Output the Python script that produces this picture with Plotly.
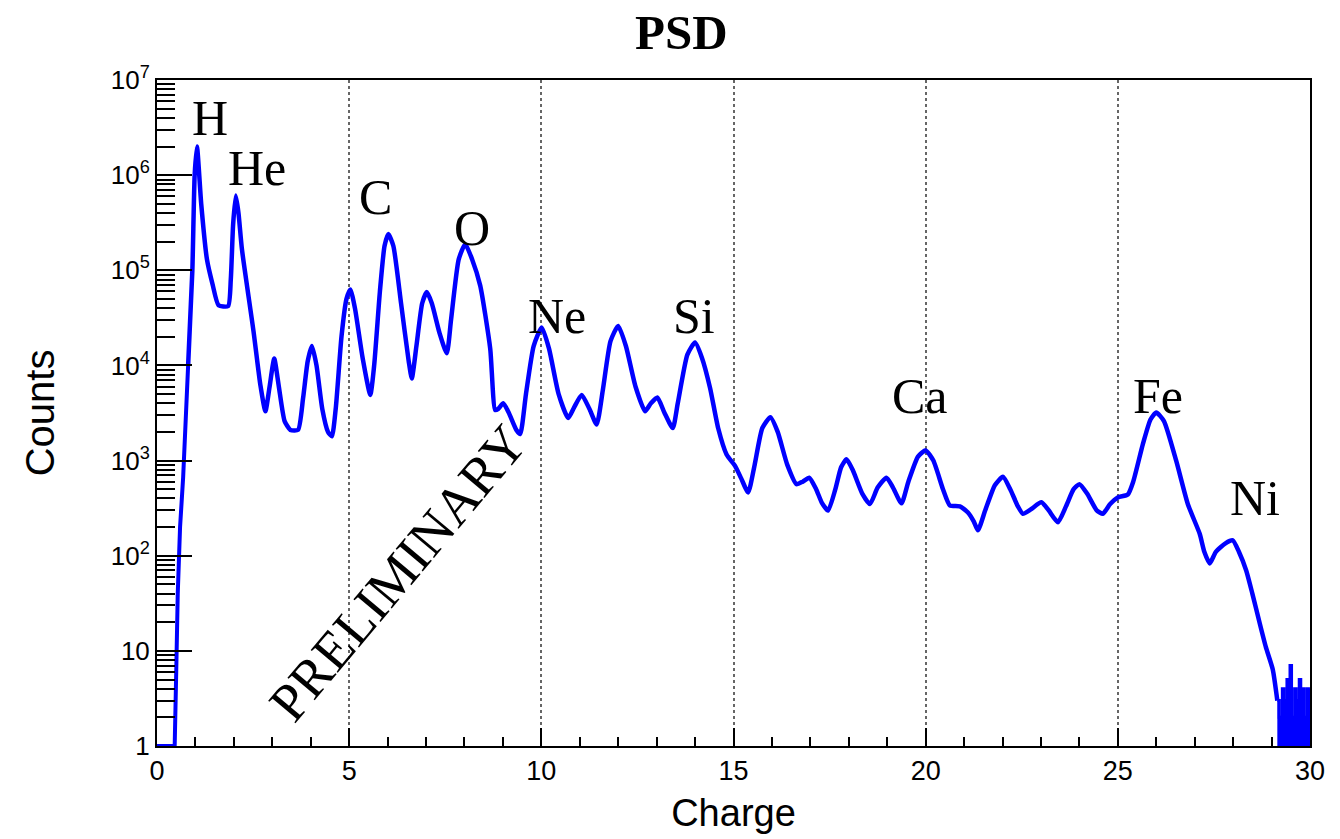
import plotly.graph_objects as go

# ---- data ----
edge_charge = [0.00, 0.46, 0.50, 0.54, 0.60, 0.68, 0.81]
edge_counts = [1, 1, 6, 40, 200, 660, 1.0e4]

charge = [0.81, 0.92, 0.98, 1.04, 1.15, 1.30, 1.45, 1.60, 1.85,
          1.92, 1.98, 2.05, 2.12, 2.21, 2.51, 2.69, 2.82, 2.93, 3.05, 3.17, 3.32, 3.47, 3.67,
          3.80, 3.92, 4.03, 4.15, 4.30, 4.45, 4.55, 4.65, 4.80, 4.93, 5.03, 5.15, 5.35, 5.55,
          5.65, 5.80, 5.92, 6.02, 6.15, 6.35, 6.55, 6.63, 6.75, 6.90, 7.02, 7.15, 7.35, 7.54,
          7.65, 7.85, 8.02, 8.20, 8.41, 8.67, 8.80, 8.88, 9.01, 9.15, 9.35, 9.45, 9.60, 9.80,
          10.01, 10.20, 10.45, 10.70, 10.85, 11.05, 11.25, 11.44, 11.60, 11.80, 12.00, 12.20,
          12.45, 12.70, 12.85, 13.02, 13.20, 13.42, 13.55, 13.80, 14.00, 14.18, 14.39, 14.60,
          14.82, 15.04, 15.20, 15.38, 15.55, 15.75, 15.96, 16.15, 16.40, 16.64, 16.80, 16.97,
          17.15, 17.30, 17.46, 17.65, 17.80, 17.94, 18.10, 18.35, 18.55, 18.75, 18.98, 19.15,
          19.37, 19.55, 19.80, 20.00, 20.20, 20.45, 20.63, 20.89, 21.10, 21.25, 21.36, 21.55,
          21.80, 22.01, 22.20, 22.40, 22.53, 22.75, 23.01, 23.20, 23.44, 23.65, 23.85, 24.00,
          24.20, 24.45, 24.61, 24.80, 25.00, 25.26, 25.40, 25.65, 25.85, 26.00, 26.20, 26.52,
          26.82, 27.13, 27.25, 27.39, 27.55, 27.80, 27.99, 28.15, 28.34, 28.50, 28.69, 28.85,
          29.03, 29.15]
counts = [1.0e4, 1.0e5, 1.0e6, 2.0e6, 5.0e5, 1.3e5, 7.0e4, 4.3e4, 4.2e4,
          8.0e4, 3.0e5, 6.1e5, 4.0e5, 1.66e5, 2.3e4, 6.2e3, 3.3e3, 6.0e3, 1.18e4, 6.0e3, 2.6e3,
          2.1e3, 2.1e3, 4.5e3, 1.1e4, 1.6e4, 1.0e4, 3.5e3, 2.0e3, 1.8e3, 3.5e3, 2.0e4, 5.0e4,
          6.3e4, 4.0e4, 1.2e4, 4.9e3, 1.0e4, 6.0e4, 1.8e5, 2.4e5, 1.8e5, 4.5e4, 1.1e4, 7.3e3,
          1.6e4, 4.5e4, 5.9e4, 4.5e4, 2.2e4, 1.34e4, 3.0e4, 1.3e5, 1.88e5, 1.3e5, 6.9e4, 1.5e4,
          3.4e3, 3.5e3, 4.0e3, 3.2e3, 2.1e3, 1.9e3, 5.0e3, 1.6e4, 2.5e4, 1.5e4, 5.0e3, 2.8e3,
          3.6e3, 4.9e3, 3.5e3, 2.4e3, 5.5e3, 1.8e4, 2.6e4, 1.6e4, 6.0e3, 3.3e3, 4.0e3, 4.6e3,
          3.2e3, 2.2e3, 4.0e3, 1.3e4, 1.74e4, 1.2e4, 5.8e3, 2.2e3, 1.16e3, 880, 650, 462, 900,
          2.2e3, 2.85e3, 2.0e3, 900, 565, 600, 660, 500, 360, 298, 500, 850, 1.03e3, 800, 450,
          349, 520, 660, 520, 355, 600, 1.1e3, 1.28e3, 1.0e3, 500, 337, 330, 285, 230, 185, 300,
          550, 675, 500, 330, 276, 310, 364, 300, 225, 330, 500, 565, 450, 300, 276, 350, 410,
          440, 600, 1.48e3, 2.7e3, 3.2e3, 2.6e3, 990, 350, 170, 110, 83, 110, 135, 145, 110, 70,
          40, 19.6, 11, 6.4, 3]

tail_charge = [29.15, 29.20, 29.24, 29.28, 29.32, 29.36, 29.40, 29.44, 29.48, 29.52, 29.56,
               29.60, 29.64, 29.68, 29.72, 29.76, 29.80, 29.84, 29.88, 29.92, 29.96, 30.00]
tail_counts = [3, 2, 1, 4, 1, 3, 5, 1, 7, 2, 1, 4, 1, 3, 5, 1, 4, 1, 2, 4, 1, 4]

elements = ["H", "He", "C", "O", "Ne", "Si", "Ca", "Fe", "Ni"]
label_x = [1.39, 2.60, 5.68, 8.20, 10.41, 13.97, 19.85, 26.04, 28.56]
label_logy = [6.60, 6.08, 5.775, 5.44, 4.52, 4.52, 3.68, 3.68, 2.61]

y_tickvals = [1, 10, 100, 1e3, 1e4, 1e5, 1e6, 1e7]
y_ticktext = ["1", "10", "10<sup>2</sup>", "10<sup>3</sup>", "10<sup>4</sup>",
              "10<sup>5</sup>", "10<sup>6</sup>", "10<sup>7</sup>"]
y_minor_vals = [m * d for d in y_tickvals[:-1] for m in range(2, 10)]
x_tickvals = [0, 5, 10, 15, 20, 25, 30]

BLUE = "#0000ff"
SERIF = "Liberation Serif, Times New Roman, serif"
SANS = "Liberation Sans, Arial, sans-serif"

fig = go.Figure()
fig.add_trace(go.Scatter(x=edge_charge, y=edge_counts, mode="lines",
                         line=dict(color=BLUE, width=4),
                         showlegend=False, hoverinfo="skip"))
fig.add_trace(go.Scatter(x=charge, y=counts, mode="lines",
                         line=dict(color=BLUE, width=4.5, shape="spline", smoothing=0.55),
                         showlegend=False, hoverinfo="skip"))
fig.add_trace(go.Scatter(x=tail_charge, y=tail_counts, mode="lines",
                         line=dict(color=BLUE, width=3, shape="hv"),
                         fill="tozeroy", fillcolor=BLUE,
                         showlegend=False, hoverinfo="skip"))

for t, xx, ly in zip(elements, label_x, label_logy):
    fig.add_annotation(x=xx, y=ly, xref="x", yref="y", text=t, showarrow=False,
                       font=dict(family=SERIF, size=50, color="black"),
                       xanchor="center", yanchor="middle")

fig.add_annotation(x=0.209, y=0.26, xref="paper", yref="paper", text="PRELIMINARY",
                   showarrow=False, textangle=-50,
                   font=dict(family=SERIF, size=54, color="black"),
                   xanchor="center", yanchor="middle")

fig.add_annotation(x=0.455, y=1.072, xref="paper", yref="paper", text="<b>PSD</b>",
                   showarrow=False, font=dict(family=SERIF, size=49, color="black"),
                   xanchor="center", yanchor="middle")

fig.update_layout(
    width=1340, height=839,
    margin=dict(l=157, r=30, t=80, b=88),
    paper_bgcolor="white", plot_bgcolor="white",
    xaxis=dict(range=[0, 30], tickvals=x_tickvals, ticks="inside", ticklen=18,
               tickwidth=2, tickcolor="black",
               minor=dict(ticks="inside", ticklen=9, dtick=1, tickwidth=1.5,
                          tickcolor="black", showgrid=False),
               showline=True, linecolor="black", linewidth=2, mirror=True,
               showgrid=True, gridcolor="#666666", griddash="dot", gridwidth=2,
               zeroline=False,
               tickfont=dict(family=SANS, size=27, color="black"),
               title=dict(text="Charge", font=dict(family=SANS, size=38, color="black"),
                          standoff=14)),
    yaxis=dict(type="log", range=[0, 7], tickvals=y_tickvals, ticktext=y_ticktext,
               ticks="inside", ticklen=35, tickwidth=2, tickcolor="black",
               minor=dict(tickvals=y_minor_vals, ticks="inside", ticklen=18,
                          tickwidth=1.5, tickcolor="black", showgrid=False),
               showline=True, linecolor="black", linewidth=2, mirror=True,
               showgrid=False, zeroline=False,
               tickfont=dict(family=SANS, size=26, color="black"),
               title=dict(text="Counts", font=dict(family=SANS, size=40, color="black"),
                          standoff=44)),
)

fig.write_html("out.html")
